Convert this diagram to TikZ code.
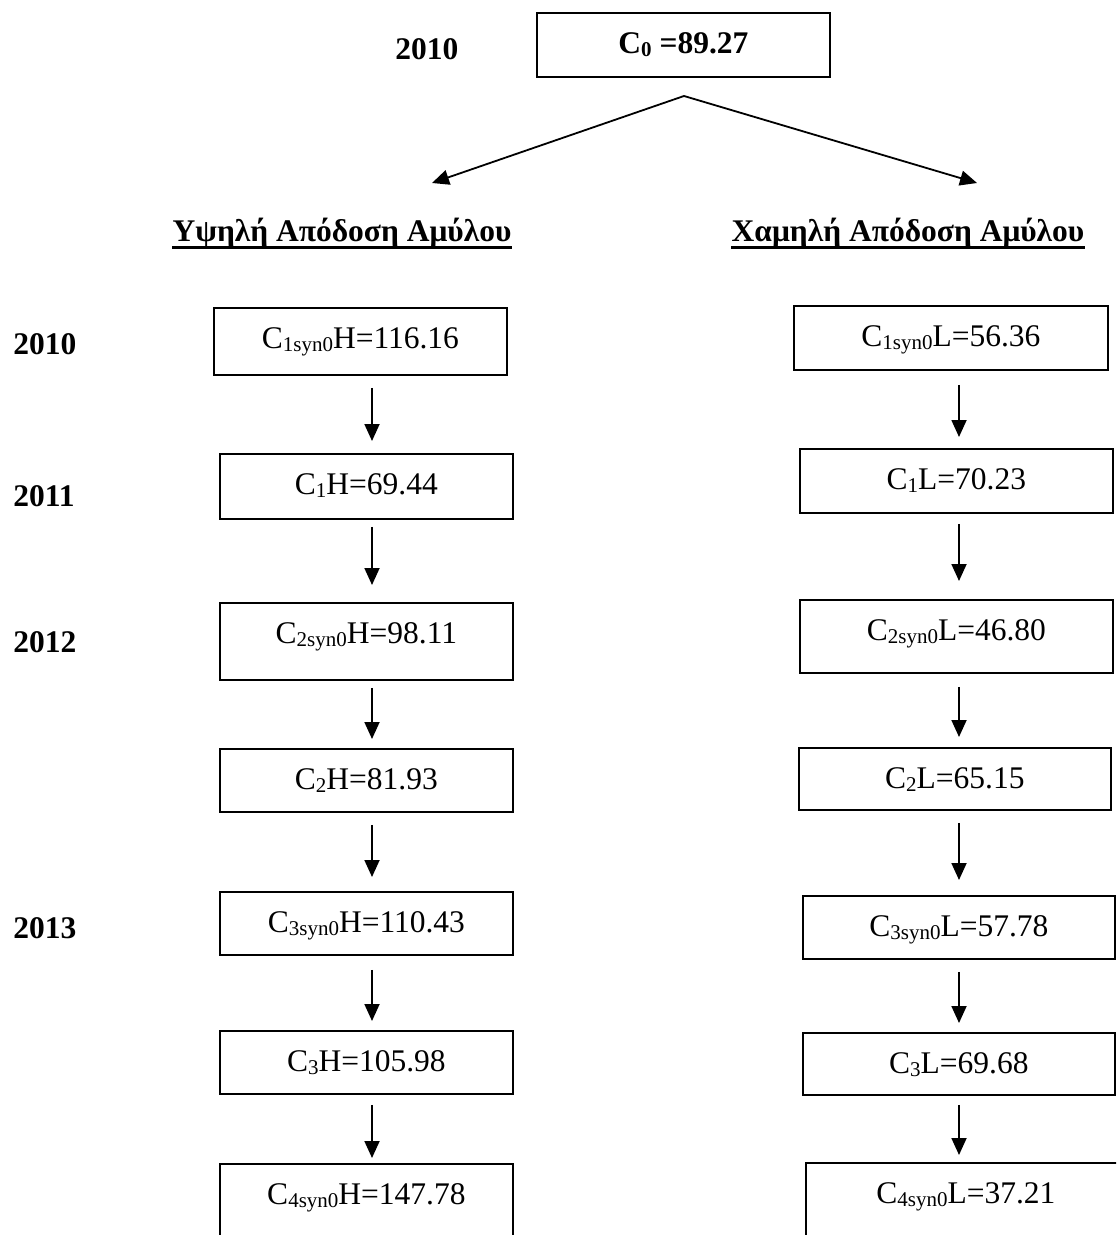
\documentclass[tikz,border=0pt]{standalone}
\usepackage{fontspec}
\setmainfont{Liberation Serif}
\usetikzlibrary{arrows.meta}
% lowered, smaller index text
\newcommand\sbs[1]{\raisebox{-1.3pt}{\fontsize{10.5}{12}\selectfont #1}}
\begin{document}
\begin{tikzpicture}[x=0.5pt,y=-0.5pt,
  every node/.style={font=\fontsize{15.75}{18}\selectfont},
  valbox/.style={draw, line width=0.9pt, rectangle, inner sep=0pt,
    anchor=north west, text height=20.5pt},
  yearlbl/.style={font=\fontsize{15.75}{18}\selectfont\bfseries,
    anchor=base west, inner sep=0pt},
  hdr/.style={font=\fontsize{15.75}{18}\selectfont\bfseries,
    anchor=base, inner sep=0pt},
  uline/.style={line width=1.4pt},
  arr/.style={-{Triangle[length=8.5pt,width=7.5pt]}, line width=0.9pt},
]
\useasboundingbox (0,0) rectangle (1116,1235);
\clip (0,0) rectangle (1116,1235);

% starting value
\node[valbox, font=\fontsize{15.75}{18}\selectfont\bfseries,
  minimum width=146.5pt, text depth=11.5pt] (C0) at (536,12) {C\sbs{0} =89.27};
\node[yearlbl] (y0) at (395,60) {2010};

% split into the two scenarios
\coordinate (fork) at (684,96);
\coordinate (hiTip) at (432,183);
\coordinate (loTip) at (977,183);
\draw[arr] (fork) -- (hiTip);
\draw[arr] (fork) -- (loTip);

% column headings
\node[hdr] (hdrH) at (342,242) {Υψηλή Απόδοση Αμύλου};
\node[hdr] (hdrL) at (908,242) {Χαμηλή Απόδοση Αμύλου};
\draw[uline] ([yshift=-2.7pt]hdrH.base west) -- ([yshift=-2.7pt]hdrH.base east);
\draw[uline] ([yshift=-2.7pt]hdrL.base west) -- ([yshift=-2.7pt]hdrL.base east);

% year labels
\node[yearlbl] (y1) at (13,354) {2010};
\node[yearlbl] (y2) at (13,506) {2011};
\node[yearlbl] (y3) at (13,652) {2012};
\node[yearlbl] (y4) at (13,938) {2013};

% high yield column
\node[valbox, minimum width=146.5pt, text depth=13pt] (L1) at (213,307) {C\sbs{1syn0}H=116.16};
\node[valbox, minimum width=146.5pt, text depth=12pt] (L2) at (219,453) {C\sbs{1}H=69.44};
\node[valbox, minimum width=146.5pt, text depth=18pt] (L3) at (219,602) {C\sbs{2syn0}H=98.11};
\node[valbox, minimum width=146.5pt, text depth=11pt] (L4) at (219,748) {C\sbs{2}H=81.93};
\node[valbox, minimum width=146.5pt, text depth=11pt] (L5) at (219,891) {C\sbs{3syn0}H=110.43};
\node[valbox, minimum width=146.5pt, text depth=11pt] (L6) at (219,1030) {C\sbs{3}H=105.98};
\node[valbox, minimum width=146.5pt, text depth=39.5pt] (L7) at (219,1163) {C\sbs{4syn0}H=147.78};

% low yield column
\node[valbox, minimum width=157pt, text depth=11.5pt] (R1) at (793,305) {C\sbs{1syn0}L=56.36};
\node[valbox, minimum width=156.5pt, text depth=11.5pt] (R2) at (799,448) {C\sbs{1}L=70.23};
\node[valbox, minimum width=156.5pt, text depth=16pt] (R3) at (799,599) {C\sbs{2syn0}L=46.80};
\node[valbox, minimum width=156pt, text depth=10.5pt] (R4) at (798,747) {C\sbs{2}L=65.15};
\node[valbox, minimum width=156pt, text depth=11pt] (R5) at (802,895) {C\sbs{3syn0}L=57.78};
\node[valbox, minimum width=156pt, text depth=10.5pt] (R6) at (802,1032) {C\sbs{3}L=69.68};
\node[valbox, minimum width=160pt, text depth=39.5pt] (R7) at (805,1162) {C\sbs{4syn0}L=37.21};

% step arrows
\coordinate (lx) at (372,0);
\coordinate (rx) at (959,0);
\draw[arr, shorten <=6pt,   shorten >=6pt]   (L1.south -| lx) -- (L2.north -| lx);
\draw[arr, shorten <=3.5pt, shorten >=8.5pt] (L2.south -| lx) -- (L3.north -| lx);
\draw[arr, shorten <=3.5pt, shorten >=4.5pt] (L3.south -| lx) -- (L4.north -| lx);
\draw[arr, shorten <=6pt,   shorten >=7pt]   (L4.south -| lx) -- (L5.north -| lx);
\draw[arr, shorten <=7pt,   shorten >=4.5pt] (L5.south -| lx) -- (L6.north -| lx);
\draw[arr, shorten <=5pt,   shorten >=2.5pt] (L6.south -| lx) -- (L7.north -| lx);

\draw[arr, shorten <=7pt,   shorten >=5.5pt] (R1.south -| rx) -- (R2.north -| rx);
\draw[arr, shorten <=5pt,   shorten >=9pt]   (R2.south -| rx) -- (R3.north -| rx);
\draw[arr, shorten <=6.5pt, shorten >=5pt]   (R3.south -| rx) -- (R4.north -| rx);
\draw[arr, shorten <=6pt,   shorten >=7.5pt] (R4.south -| rx) -- (R5.north -| rx);
\draw[arr, shorten <=6pt,   shorten >=4.5pt] (R5.south -| rx) -- (R6.north -| rx);
\draw[arr, shorten <=4.5pt, shorten >=3.5pt] (R6.south -| rx) -- (R7.north -| rx);
\end{tikzpicture}
\end{document}
